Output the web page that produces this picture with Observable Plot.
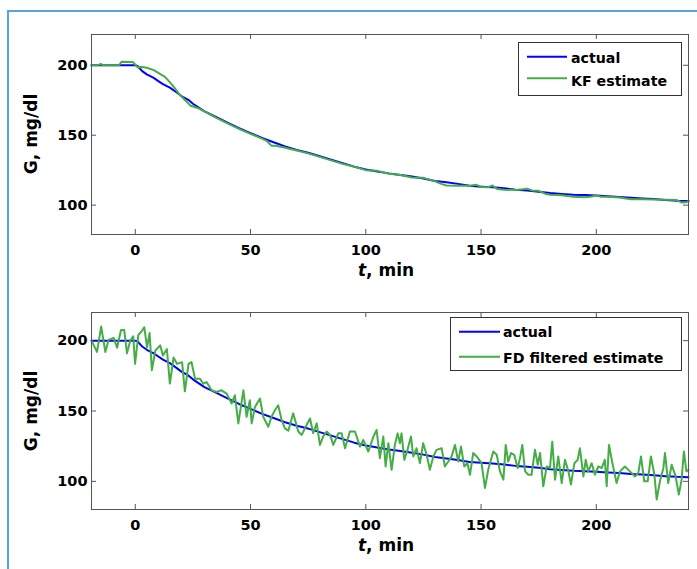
<!DOCTYPE html>
<html><head><meta charset="utf-8">
<script src="https://cdn.jsdelivr.net/npm/d3@7"></script>
<script src="https://cdn.jsdelivr.net/npm/@observablehq/plot@0.6"></script>
<style>
html,body{margin:0;padding:0;background:#fff;}
#wrap{position:relative;width:697px;height:569px;overflow:hidden;background:#fff;}
#border{position:absolute;left:7px;top:10px;width:720px;height:600px;border-left:2px solid #55a5dc;border-top:2px solid #55a5dc;}
.panel{position:absolute;left:0;}
#overlay{position:absolute;left:0;top:0;}
</style></head>
<body><div id="wrap"><div id="border"></div></div>
<script>
// ---- data ----
const xTicks = [0, 50, 100, 150, 200];
const yTicks = [100, 150, 200];

const actualT = [-19,0,1,3,5,8,10,12,15,18,20,23,25,30,35,40,45,50,55,60,65,70,75,80,85,90,95,100,105,110,115,120,125,130,135,140,145,150,155,160,165,170,175,180,185,190,195,200,205,210,215,220,225,230,235,240];
const actualG = [200,200,199.5,195.8,193.5,191,188.7,186.5,184,180.5,178,175.3,172.5,167,163,159,155,151.5,148,145,142,139.5,137.5,135,132.5,130,127.5,125.5,124,122.7,121.6,120.4,119,117.3,116.3,115.2,113.8,113.2,112.7,112,111,110.4,109.6,108.6,108,107.5,107.2,106.8,106.3,105.9,105.3,104.8,104.3,103.7,103.2,102.9];

const kfT = [-19,-16,-15,-14,-7,-6,-1,0,1,3,5,8,10,13,16,19,22,24,27,30,35,40,45,50,55,57,59,61,65,70,75,80,85,90,95,100,105,110,115,120,125,130,133,135,140,145,148,150,153,155,157,160,165,168,170,172,175,178,180,185,190,195,198,200,202,205,210,215,220,225,230,235,237,239,240];
const kfG = [200,200,201,200,200,202.5,202.3,200.5,198.5,198.8,198.2,196.5,194.5,191.5,186,179.5,174.5,171,169.5,167,162.5,158.5,154.5,151,147.5,146,142.5,142.5,141,139,137,134.5,132,129.5,127.5,125,124.5,122.5,121.5,119.8,119.5,117,115,114,113.8,113.8,114.5,113,112.8,114,111.5,111,110.8,111.3,111.8,110.5,110.2,108,107.5,107,106,105.7,106.2,107,106,106,105.5,104.2,104.2,104,103.8,103.6,101.8,102,102.8];

const fdT = [-19,-16.6,-14.8,-13,-11.6,-9.4,-7.9,-6.2,-4.8,-3.6,-2.2,-0.9,-0.1,1.3,2.9,3.9,5.1,6.2,7.2,8.7,10.8,12,13.7,15,16.6,18.1,20.3,21.5,23.1,24.4,25.9,28,29.5,30.9,33.1,35.3,37.4,39.6,41.8,43.2,44.7,46.9,48.3,49.7,50.5,51.9,54.1,55.5,57.7,59.1,60.6,62,63.5,64.9,66.4,68.5,70.7,72.2,74.3,75.8,77.2,78.7,80.1,81.5,83,84.5,85.9,88.1,89.5,91,93.1,95.3,97.5,98.9,101.1,103.3,104.7,106.1,107.6,108.6,109.8,111.2,112.6,113.8,114.8,115.5,116.7,118.1,119.6,120.6,122,123.5,124.9,126.4,127.8,129.3,130.7,132.9,134.3,135.8,137.2,138.7,140.1,141.3,142.7,144.1,145.2,146.6,148.1,150.2,151.7,153.1,155.3,156.8,158.2,159.7,160.7,161.8,163,164.4,165.9,166.9,167.9,169.1,170.5,171.9,173.4,174.6,175.6,177,178.5,179.9,180.9,182.1,183.5,185,186.4,187.9,189,190.5,191.9,192.9,194.4,195.4,196.5,198,199.4,200.9,202.3,203.7,204.5,205.5,207,208.8,210.3,212.4,214.6,216.8,218.2,219.4,220.8,222.3,223.7,225.2,226.2,227.6,229.1,229.8,231.2,232.7,234.4,235.8,237,238,239.1,240];
const fdG = [200,192,210,192,200.5,202,195,207.5,207.5,191,200,203,183.5,204,207,209.5,195.3,205.4,179,193,196.6,189.4,194,169.5,188,183.5,184.7,164,183.5,184.7,173,173,169.4,170.6,164.7,163.5,164.7,162.4,155.3,161.2,141.2,164.7,145.9,157.6,141.2,152.9,158.8,145.9,138.8,145.9,150.6,154.1,143.5,137.6,136,148.3,135.4,133,140,144.7,134.2,141.2,125.9,131.8,135.4,133,125.9,134.2,134.2,123.5,135.4,135.4,124.7,129.4,121.2,131.8,136.5,116.5,131.8,110.6,127.1,108.2,125.9,134.1,127.1,134.1,115.3,122.4,131.8,117.7,123.5,112.9,127.1,118.9,108.2,117.7,122.4,123.5,110.6,114.1,117.7,125.9,114.1,124.7,110.6,112.9,104.7,120.1,117.7,112.9,95.3,108.2,121.2,118.9,107.1,101.2,125.9,114.1,120.1,118.9,109.4,116.5,125.9,107.1,104.7,104.7,122.4,111.8,120.1,96.5,110.6,109.4,128.2,101.2,117.7,98.8,115.3,107.1,97.7,112.9,115.3,123.5,103.5,115.3,107.1,112.9,104.7,110.6,109.4,115.3,96.5,125.9,112.9,98.8,107.1,110.6,107.1,103.5,105.9,117.7,100,100,117.7,104.7,87.1,100,109.4,120.1,98.8,111.8,103.5,90.6,101.2,121.2,107.1,108.2];

const xLabelParts = ["t", ", min"];
const yLabel = "G, mg/dl";
const legendTop = ["actual", "KF estimate"];
const legendBottom = ["actual", "FD filtered estimate"];

// ---- drawing ----
const BLUE = "#0000ff", GREEN = "#45ad45", AXIS = "#555";
const zip = (T, G) => T.map((t, i) => ({t, G: G[i]}));
const actual = zip(actualT, actualG);

function panel(est, yDomain, height, mt, mb) {
  const W = 697, ml = 91, mr = 9;
  const plotH = height - mt - mb, plotW = W - ml - mr;
  return Plot.plot({
    width: W, height, marginLeft: ml, marginRight: mr, marginTop: mt, marginBottom: mb,
    x: {domain: [-19, 240]},
    y: {domain: yDomain},
    style: {fontFamily: "DejaVu Sans", fontWeight: "bold", fontSize: "14.5px", color: "#000", background: "transparent", overflow: "visible"},
    marks: [
      Plot.axisX({ticks: xTicks, tickSize: 0, tickPadding: 10, tickFormat: d => String(d), label: null}),
      Plot.axisY({ticks: yTicks, tickSize: 0, tickPadding: 4, tickFormat: d => String(d), label: null}),
      Plot.tickX(xTicks, {x: d => d, insetTop: plotH - 5, stroke: AXIS}),
      Plot.tickX(xTicks, {x: d => d, insetBottom: plotH - 5, stroke: AXIS}),
      Plot.tickY(yTicks, {y: d => d, insetRight: plotW - 5, stroke: AXIS}),
      Plot.tickY(yTicks, {y: d => d, insetLeft: plotW - 5, stroke: AXIS}),
      Plot.line(actual, {x: "t", y: "G", stroke: BLUE, strokeWidth: 2}),
      Plot.line(est, {x: "t", y: "G", stroke: GREEN, strokeWidth: 2}),
      Plot.frame({stroke: AXIS, strokeWidth: 1})
    ]
  });
}

const wrap = document.getElementById("wrap");
const top1 = panel(zip(kfT, kfG), [79, 222], 260, 34, 26);
top1.classList.add("panel"); top1.style.top = "0px";
wrap.appendChild(top1);
const bot = panel(zip(fdT, fdG), [80, 220], 255, 32, 26);
bot.classList.add("panel"); bot.style.top = "280px";
wrap.appendChild(bot);

// overlay: axis titles and legends
const ns = "http://www.w3.org/2000/svg";
const ov = document.createElementNS(ns, "svg");
ov.setAttribute("id", "overlay");
ov.setAttribute("width", 697); ov.setAttribute("height", 569);
ov.setAttribute("font-family", "DejaVu Sans");
ov.setAttribute("font-weight", "bold");
wrap.appendChild(ov);
function el(tag, attrs, text) {
  const e = document.createElementNS(ns, tag);
  for (const k in attrs) e.setAttribute(k, attrs[k]);
  if (text != null) e.textContent = text;
  ov.appendChild(e);
  return e;
}
function xlabel(baseline) {
  const t = el("text", {x: 386, y: baseline, "text-anchor": "middle", "font-size": 17});
  const a = document.createElementNS(ns, "tspan"); a.setAttribute("font-style", "italic"); a.textContent = xLabelParts[0];
  const b = document.createElementNS(ns, "tspan"); b.textContent = xLabelParts[1];
  t.appendChild(a); t.appendChild(b);
}
function ylabel(cy) {
  el("text", {transform: `translate(37,${cy}) rotate(-90)`, "text-anchor": "middle", "font-size": 17}, yLabel);
}
function legend(x, y, w, h, lx1, lx2, tx, rows, names) {
  el("rect", {x: x + 0.5, y: y + 0.5, width: w, height: h, fill: "#fff", stroke: "#333", "stroke-width": 1});
  const cols = [BLUE, GREEN];
  rows.forEach((r, i) => {
    el("line", {x1: lx1, x2: lx2, y1: r[0], y2: r[0], stroke: cols[i], "stroke-width": 2});
    el("text", {x: tx, y: r[1], "font-size": 14.2}, names[i]);
  });
}
xlabel(276); ylabel(134);
xlabel(551); ylabel(411);
legend(518, 42, 163, 53, 527, 567, 571, [[56.7, 62.7], [78.3, 86]], legendTop);
legend(450, 317, 231, 53, 459, 500, 503, [[331.7, 337.3], [356.7, 363]], legendBottom);
</script>
</body></html>
